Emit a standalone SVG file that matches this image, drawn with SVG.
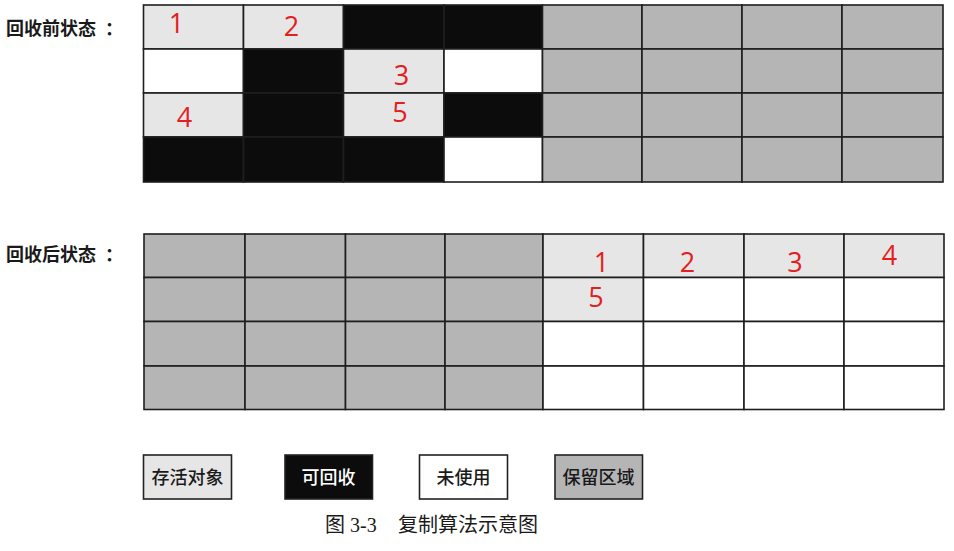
<svg xmlns="http://www.w3.org/2000/svg" width="954" height="551" viewBox="0 0 954 551">
<style>
.live{fill:#e6e6e6}
.dead{fill:#0c0c0c}
.free{fill:#ffffff}
.rsv{fill:#b5b5b5}
.cell rect{stroke:#1e1e1e;stroke-width:1.6}
.lbl{font-family:"Noto Sans CJK SC",sans-serif;font-weight:bold;font-size:18px;fill:#1a1a1a}
.num{font-family:"Open Sans","Liberation Sans",sans-serif;font-size:27px;fill:#e3201f;text-anchor:middle}
.leg rect{stroke:#222;stroke-width:1.6}
.legt{font-family:"Noto Sans CJK SC",sans-serif;font-size:18px;font-weight:500;text-anchor:middle;fill:#1a1a1a}
.cap{font-family:"Liberation Serif","Noto Sans CJK SC",serif;font-size:20px;fill:#1a1a1a}
</style>
<rect width="954" height="551" fill="#ffffff"/>
<text class="lbl" x="6" y="35">回收前状态<tspan dx="9">：</tspan></text>
<text class="lbl" x="6" y="261">回收后状态<tspan dx="9">：</tspan></text>
<g id="before" class="cell">
<g id="b00"><rect class="live" x="143.5" y="5" width="100" height="44"/></g>
<g id="b01"><rect class="live" x="243.5" y="5" width="100" height="44"/></g>
<g id="b02"><rect class="dead" x="343.5" y="5" width="100.5" height="44"/></g>
<g id="b03"><rect class="dead" x="444" y="5" width="98.5" height="44"/></g>
<g id="b04"><rect class="rsv" x="542.5" y="5" width="99.5" height="44"/></g>
<g id="b05"><rect class="rsv" x="642" y="5" width="100" height="44"/></g>
<g id="b06"><rect class="rsv" x="742" y="5" width="100" height="44"/></g>
<g id="b07"><rect class="rsv" x="842" y="5" width="101" height="44"/></g>
<g id="b10"><rect class="free" x="143.5" y="49" width="100" height="44"/></g>
<g id="b11"><rect class="dead" x="243.5" y="49" width="100" height="44"/></g>
<g id="b12"><rect class="live" x="343.5" y="49" width="100.5" height="44"/></g>
<g id="b13"><rect class="free" x="444" y="49" width="98.5" height="44"/></g>
<g id="b14"><rect class="rsv" x="542.5" y="49" width="99.5" height="44"/></g>
<g id="b15"><rect class="rsv" x="642" y="49" width="100" height="44"/></g>
<g id="b16"><rect class="rsv" x="742" y="49" width="100" height="44"/></g>
<g id="b17"><rect class="rsv" x="842" y="49" width="101" height="44"/></g>
<g id="b20"><rect class="live" x="143.5" y="93" width="100" height="44"/></g>
<g id="b21"><rect class="dead" x="243.5" y="93" width="100" height="44"/></g>
<g id="b22"><rect class="live" x="343.5" y="93" width="100.5" height="44"/></g>
<g id="b23"><rect class="dead" x="444" y="93" width="98.5" height="44"/></g>
<g id="b24"><rect class="rsv" x="542.5" y="93" width="99.5" height="44"/></g>
<g id="b25"><rect class="rsv" x="642" y="93" width="100" height="44"/></g>
<g id="b26"><rect class="rsv" x="742" y="93" width="100" height="44"/></g>
<g id="b27"><rect class="rsv" x="842" y="93" width="101" height="44"/></g>
<g id="b30"><rect class="dead" x="143.5" y="137" width="100" height="45"/></g>
<g id="b31"><rect class="dead" x="243.5" y="137" width="100" height="45"/></g>
<g id="b32"><rect class="dead" x="343.5" y="137" width="100.5" height="45"/></g>
<g id="b33"><rect class="free" x="444" y="137" width="98.5" height="45"/></g>
<g id="b34"><rect class="rsv" x="542.5" y="137" width="99.5" height="45"/></g>
<g id="b35"><rect class="rsv" x="642" y="137" width="100" height="45"/></g>
<g id="b36"><rect class="rsv" x="742" y="137" width="100" height="45"/></g>
<g id="b37"><rect class="rsv" x="842" y="137" width="101" height="45"/></g>
</g>
<g id="after" class="cell">
<g id="a00"><rect class="rsv" x="144" y="234" width="101" height="43.5"/></g>
<g id="a01"><rect class="rsv" x="245" y="234" width="100.5" height="43.5"/></g>
<g id="a02"><rect class="rsv" x="345.5" y="234" width="99.5" height="43.5"/></g>
<g id="a03"><rect class="rsv" x="445" y="234" width="98" height="43.5"/></g>
<g id="a04"><rect class="live" x="543" y="234" width="100.5" height="43.5"/></g>
<g id="a05"><rect class="live" x="643.5" y="234" width="100.5" height="43.5"/></g>
<g id="a06"><rect class="live" x="744" y="234" width="100" height="43.5"/></g>
<g id="a07"><rect class="live" x="844" y="234" width="100" height="43.5"/></g>
<g id="a10"><rect class="rsv" x="144" y="277.5" width="101" height="44"/></g>
<g id="a11"><rect class="rsv" x="245" y="277.5" width="100.5" height="44"/></g>
<g id="a12"><rect class="rsv" x="345.5" y="277.5" width="99.5" height="44"/></g>
<g id="a13"><rect class="rsv" x="445" y="277.5" width="98" height="44"/></g>
<g id="a14"><rect class="live" x="543" y="277.5" width="100.5" height="44"/></g>
<g id="a15"><rect class="free" x="643.5" y="277.5" width="100.5" height="44"/></g>
<g id="a16"><rect class="free" x="744" y="277.5" width="100" height="44"/></g>
<g id="a17"><rect class="free" x="844" y="277.5" width="100" height="44"/></g>
<g id="a20"><rect class="rsv" x="144" y="321.5" width="101" height="44.5"/></g>
<g id="a21"><rect class="rsv" x="245" y="321.5" width="100.5" height="44.5"/></g>
<g id="a22"><rect class="rsv" x="345.5" y="321.5" width="99.5" height="44.5"/></g>
<g id="a23"><rect class="rsv" x="445" y="321.5" width="98" height="44.5"/></g>
<g id="a24"><rect class="free" x="543" y="321.5" width="100.5" height="44.5"/></g>
<g id="a25"><rect class="free" x="643.5" y="321.5" width="100.5" height="44.5"/></g>
<g id="a26"><rect class="free" x="744" y="321.5" width="100" height="44.5"/></g>
<g id="a27"><rect class="free" x="844" y="321.5" width="100" height="44.5"/></g>
<g id="a30"><rect class="rsv" x="144" y="366" width="101" height="43.5"/></g>
<g id="a31"><rect class="rsv" x="245" y="366" width="100.5" height="43.5"/></g>
<g id="a32"><rect class="rsv" x="345.5" y="366" width="99.5" height="43.5"/></g>
<g id="a33"><rect class="rsv" x="445" y="366" width="98" height="43.5"/></g>
<g id="a34"><rect class="free" x="543" y="366" width="100.5" height="43.5"/></g>
<g id="a35"><rect class="free" x="643.5" y="366" width="100.5" height="43.5"/></g>
<g id="a36"><rect class="free" x="744" y="366" width="100" height="43.5"/></g>
<g id="a37"><rect class="free" x="844" y="366" width="100" height="43.5"/></g>
</g>
<g id="numbers">
<text class="num" x="176.5" y="33">1</text>
<text class="num" x="291.5" y="36">2</text>
<text class="num" x="401.5" y="85">3</text>
<text class="num" x="184.5" y="127">4</text>
<text class="num" x="400" y="122">5</text>
<text class="num" x="601.5" y="272">1</text>
<text class="num" x="687.5" y="272">2</text>
<text class="num" x="795" y="272">3</text>
<text class="num" x="889.5" y="265">4</text>
<text class="num" x="596" y="307">5</text>
</g>
<g id="legend" class="leg">
<g id="leg-live"><rect class="live" x="143.5" y="455" width="88" height="44"/><text class="legt" x="187.5" y="483.5">存活对象</text></g>
<g id="leg-dead"><rect class="dead" x="285" y="455" width="87.5" height="44"/><text class="legt" x="328.5" y="483.5" style="fill:#ffffff">可回收</text></g>
<g id="leg-free"><rect class="free" x="419.5" y="455" width="88" height="44"/><text class="legt" x="463.5" y="483.5">未使用</text></g>
<g id="leg-rsv"><rect class="rsv" x="555" y="455" width="87.5" height="44"/><text class="legt" x="598.5" y="483.5">保留区域</text></g>
</g>
<text class="cap" x="325" y="532">图 3-3<tspan x="398">复制算法示意图</tspan></text>
</svg>
